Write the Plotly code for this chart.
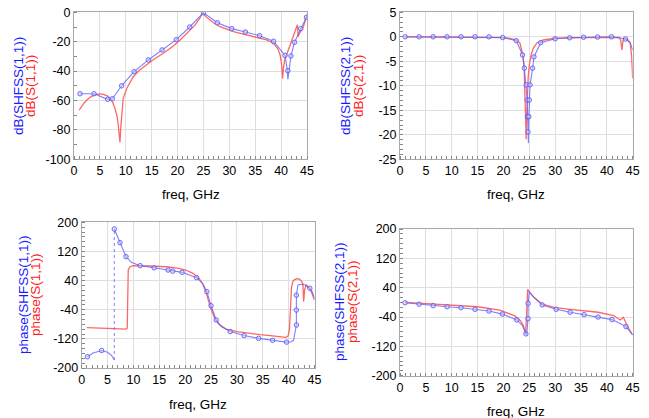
import plotly.graph_objects as go

W, H = 649, 418

# ---------------- data ----------------
# Top-left: dB(S11)
s11db_blue_line_f = [1.16, 3.86, 6.5, 7.4, 9.2, 11.6, 14.35, 17.0, 19.75, 22.35, 25.0, 27.7, 30.45,
                     33.1, 35.85, 38.55, 40.75, 41.2, 41.3, 41.9, 42.6, 43.8, 44.9]
s11db_blue_line_v = [-55.4, -55.4, -59.2, -58.8, -50, -40.4, -32.4, -25.6, -18.6, -10, -0.3, -7.1, -11.1,
                     -13.4, -15.9, -19.7, -29.3, -39.3, -45.6, -29.7, -20.4, -11.1, -3.4]
s11db_blue_mk_f = [1.16, 3.86, 6.5, 7.4, 9.2, 11.6, 14.35, 17.0, 19.75, 22.35, 25.0, 27.7, 30.45,
                   33.1, 35.85, 38.55, 40.75, 41.3, 41.9, 42.6, 43.8, 44.9]
s11db_blue_mk_v = [-55.4, -55.4, -59.2, -58.8, -50, -40.4, -32.4, -25.6, -18.6, -10, -0.3, -7.1, -11.1,
                   -13.4, -15.9, -19.7, -29.3, -39.7, -29.7, -20.4, -11.1, -3.4]
s11db_red_f = [1.0, 1.5, 2.0, 2.5, 3.0, 4.0, 5.0, 5.7, 6.5, 7.0, 7.5, 7.9, 8.3, 8.55, 8.75, 8.88,
               9.0, 9.2, 9.5, 10.2, 11.45, 12.5, 14.0, 15.5, 17.25, 19.0, 20.5, 22.0, 23.4, 24.3,
               24.85, 25.4, 26.3, 27.2, 28.2, 29.5, 30.8, 32.5, 34.0, 35.6, 37.2, 38.2, 38.8, 39.4,
               39.8, 40.05, 40.2, 40.3, 40.45, 40.7, 41.05, 42.0, 43.0, 43.15, 43.3, 43.6, 44.3, 45.0]
s11db_red_v = [-66.5, -63.5, -61.5, -59.7, -58.0, -56.0, -55.5, -55.8, -57.0, -58.5, -61.5, -65.3,
               -70.5, -76.7, -83.0, -88.5, -80.0, -68.0, -58.5, -51.7, -43.8, -39.8, -35.9, -31.8,
               -27.9, -23.5, -18.8, -13.8, -8.6, -4.0, 0.0, -2.8, -5.2, -7.8, -9.8, -11.6, -13.2,
               -14.6, -15.9, -17.3, -18.8, -20.5, -22.2, -25.0, -29.0, -34.0, -39.0, -45.0, -38.0,
               -32.0, -29.0, -20.0, -9.1, -8.5, -16.6, -14.0, -9.8, -1.8]

# Top-right: dB(S21)
s21db_blue_mk_f = [1.0, 3.7, 6.4, 9.1, 11.8, 14.5, 17.2, 19.85, 22.5, 23.7, 24.05, 24.4, 24.6, 24.68,
                   24.75, 24.92, 25.0, 25.15, 25.65, 25.9, 27.2, 30.0, 32.8, 35.5, 38.2, 40.9, 43.6]
s21db_blue_mk_v = [0, 0, 0, 0, 0, 0, 0, -0.15, -0.8, -3.7, -6.4, -9.8, -12.9, -16.3,
                   -19.4, -16.3, -12.9, -9.8, -6.4, -4.1, -1.2, -0.4, -0.2, -0.1, -0.05, 0, -0.45]
s21db_blue_line_f = [1.0, 3.7, 6.4, 9.1, 11.8, 14.5, 17.2, 19.85, 22.5, 23.7, 24.05, 24.4, 24.6, 24.68,
                     24.75, 24.83, 24.92, 25.0, 25.15, 25.65, 25.9, 27.2, 30.0, 32.8, 35.5, 38.2,
                     40.9, 43.6, 44.5, 45.0]
s21db_blue_line_v = [0, 0, 0, 0, 0, 0, 0, -0.15, -0.8, -3.7, -6.4, -9.8, -12.9, -16.3,
                     -19.4, -21.7, -16.3, -12.9, -9.8, -6.4, -4.1, -1.2, -0.4, -0.2, -0.1, -0.05,
                     0, -0.45, -1.2, -2.7]
s21db_red_f = [1, 10, 18, 20, 21.5, 22.6, 23.2, 23.5, 23.8, 24.0, 24.2, 24.3, 24.4, 24.5, 24.6,
               24.8, 25.0, 25.4, 25.8, 26.5, 27.7, 30, 35, 40, 42.4, 42.7, 42.9, 43.1, 43.3, 44.0,
               44.5, 44.8, 45]
s21db_red_v = [-0.02, -0.03, -0.08, -0.15, -0.35, -0.65, -1.3, -2.5, -4.0, -6.1, -12.9, -17.0,
               -20.9, -16.0, -12.5, -8.0, -5.8, -3.5, -2.3, -1.2, -0.65, -0.3, -0.15, -0.05, -0.1,
               -0.8, -2.7, -1.0, -0.3, -0.5, -1.2, -4.0, -8.5]

# Bottom-left: phase(S11)  (None = phase wrap, drawn as a dotted jump)
s11ph_blue_line_f = [1.1, 2.2, 3.85, 5.0, 5.8, 6.3, None, 6.3, 7.4, 8.57, 9.6, 11.3, 14.0, 16.7, 17.6,
                     19.4, 22.2, 23.4, 24.2, 25.0, 26.0, 27.0, 28.7, 31.4, 34.2, 36.9, 39.6, 40.5,
                     40.95, 41.5, 41.5, 41.5, 41.8, 42.4, 43.2, 44.1, 44.6, 45.0]
s11ph_blue_line_v = [-169, -159, -152, -157, -166, -178, None, 181.6, 144, 105.6, 90, 81, 75, 69, 66,
                     62.6, 48, 32, 9.5, -29, -68, -86, -100, -111, -118.6, -124, -129, -128,
                     -124, -82, -41, 0, 28, 30, 28, 19, 8, -10]
s11ph_wrap_f = [6.3, 6.3]
s11ph_wrap_v = [-178, 181.6]
s11ph_blue_mk_f = [1.1, 3.85, 6.3, 7.4, 8.57, 11.3, 14.0, 16.7, 17.6, 19.4, 22.2, 24.2, 25.0, 26.0,
                   28.7, 31.4, 34.2, 36.9, 39.6, 41.5, 41.5, 41.5, 44.1]
s11ph_blue_mk_v = [-169, -152, 181.6, 144, 105.6, 81, 75, 69, 66, 62.6, 48, 9.5, -29, -68,
                   -100, -111, -118.6, -124, -129, -82, -41, 0, 19]
s11ph_red_f = [1.0, 4.0, 7.0, 8.6, 8.8, 8.9, 9.0, 9.35, 10.0, 13.0, 16.3, 18.5, 20.1, 21.5, 22.7,
               23.4, 24.0, 24.8, 25.7, 26.5, 27.9, 30.0, 32.4, 34.5, 36.9, 38.5, 39.5, 39.9, 40.15,
               40.35, 40.55, 40.8, 41.1, 41.6, 42.1, 42.5, 42.75, 42.9, 43.1, 43.4, 44.0, 44.5, 45.0]
s11ph_red_v = [-89, -90, -92, -93, -90, 0, 70, 78, 81, 80, 78, 74, 69, 60, 46, 30, 9.5, -30, -63,
               -80, -93, -100, -105, -108.5, -112, -114.5, -116, -112, -95, -41, 20, 37, 42, 45,
               44, 38, 32, -18, 15, 28, 19, 5, -13]

# Bottom-right: phase(S21)
s21ph_blue_mk_f = [0.97, 3.7, 6.4, 9.1, 11.8, 14.5, 17.2, 19.8, 22.6, 24.35, 24.75, 24.78, 27.5,
                   30.2, 32.9, 35.6, 38.3, 41.0, 43.7]
s21ph_blue_mk_v = [-1, -5, -9, -12, -14.6, -19, -23.6, -32, -48, -86, -44.5, -2.6, -7,
                   -19, -27, -33.6, -40, -47, -66]
s21ph_blue_line_f = [0.97, 3.7, 6.4, 9.1, 11.8, 14.5, 17.2, 19.8, 22.6, 23.6, 24.35, 24.5, 24.75,
                     24.78, 25.0, 25.8, 27.5, 30.2, 32.9, 35.6, 38.3, 41.0, 43.7, 45.0]
s21ph_blue_line_v = [-1, -5, -9, -12, -14.6, -19, -23.6, -32, -48, -62, -86, -90, -44.5,
                     -2.6, 29, 15, -7, -19, -27, -33.6, -40, -47, -66, -89]
s21ph_red_f = [1.0, 5.0, 10.0, 15.0, 19.3, 22.2, 23.3, 23.9, 24.3, 24.55, 24.7, 25.2, 25.8, 27.5,
               30.0, 32.9, 35.6, 38.3, 41.3, 42.6, 43.2, 44.0, 45.0]
s21ph_red_v = [0, -3, -7, -12, -21, -37, -50, -64.5, -86, 20, 35.6, 25, 15, -5, -14.5, -19,
               -22.7, -27, -36, -48, -40.7, -66, -89]

freq_ticks = [0, 5, 10, 15, 20, 25, 30, 35, 40, 45]
s11db_ticks = [0, -20, -40, -60, -80, -100]
s21db_ticks = [5, 0, -5, -10, -15, -20, -25]
phase_ticks = [200, 120, 40, -40, -120, -200]

titles = [
    ("dB(SHFSS(1,1))", "dB(S(1,1))"),
    ("dB(SHFSS(2,1))", "dB(S(2,1))"),
    ("phase(SHFSS(1,1))", "phase(S(1,1))"),
    ("phase(SHFSS(2,1))", "phase(S(2,1))"),
]
xtitle = "freq, GHz"

# ---------------- style / layout ----------------
BLUE_LINE = "rgba(95,95,255,0.8)"
RED_LINE = "rgba(255,85,85,0.9)"
FONT = "Liberation Sans, Arial, sans-serif"

# pixel boxes (left, right, top, bottom)
boxes = [
    (74, 307, 12.3, 159.3),
    (400, 632.7, 12.3, 159.3),
    (81.7, 314.5, 222.3, 368),
    (400, 632.7, 229, 375.7),
]
title_pos = [  # (blue x, red x, y center, xtitle y)
    (19, 31, 86, 195),
    (346, 359, 86, 195),
    (23, 35, 295, 404),
    (339, 352, 302, 411),
]
yranges = [(-100, 0), (-25, 5), (-200, 200), (-200, 200)]
yticks = [s11db_ticks, s21db_ticks, phase_ticks, phase_ticks]
yminor = [10, 1, 80 / 6, 80 / 6]

series = [
    (s11db_red_f, s11db_red_v, s11db_blue_line_f, s11db_blue_line_v, s11db_blue_mk_f, s11db_blue_mk_v),
    (s21db_red_f, s21db_red_v, s21db_blue_line_f, s21db_blue_line_v, s21db_blue_mk_f, s21db_blue_mk_v),
    (s11ph_red_f, s11ph_red_v, s11ph_blue_line_f, s11ph_blue_line_v, s11ph_blue_mk_f, s11ph_blue_mk_v),
    (s21ph_red_f, s21ph_red_v, s21ph_blue_line_f, s21ph_blue_line_v, s21ph_blue_mk_f, s21ph_blue_mk_v),
]

fig = go.Figure()
layout = dict(
    width=W, height=H, margin=dict(l=0, r=0, t=0, b=0, autoexpand=False),
    paper_bgcolor="white", plot_bgcolor="white", showlegend=False,
    font=dict(family=FONT, size=12, color="black"),
    annotations=[],
)

for i, (box, ser) in enumerate(zip(boxes, series)):
    n = "" if i == 0 else str(i + 1)
    xa, ya = "x" + n, "y" + n
    rf, rv, blf, blv, bmf, bmv = ser
    fig.add_trace(go.Scatter(x=rf, y=rv, xaxis=xa, yaxis=ya, mode="lines",
                             line=dict(color=RED_LINE, width=1.3), hoverinfo="skip"))
    fig.add_trace(go.Scatter(x=blf, y=blv, xaxis=xa, yaxis=ya, mode="lines",
                             line=dict(color=BLUE_LINE, width=1.1), hoverinfo="skip",
                             connectgaps=False))
    if i == 2:
        fig.add_trace(go.Scatter(x=s11ph_wrap_f, y=s11ph_wrap_v, xaxis=xa, yaxis=ya, mode="lines",
                                 line=dict(color=BLUE_LINE, width=1, dash="dot"), hoverinfo="skip"))
    fig.add_trace(go.Scatter(x=bmf, y=bmv, xaxis=xa, yaxis=ya, mode="markers",
                             marker=dict(symbol="circle", size=4.5, color="rgba(200,200,255,0.5)",
                                         line=dict(color="rgba(90,90,240,0.85)", width=1)),
                             hoverinfo="skip"))
    l, r, t, b = box
    axis_common = dict(showline=True, mirror=True, linecolor="#a8a8a8", linewidth=1,
                       showgrid=True, gridcolor="#dedede", gridwidth=1, zeroline=False,
                       ticks="", automargin=False,
                       tickfont=dict(family=FONT, size=12.5, color="black"))
    layout["xaxis" + n] = dict(domain=[l / W, r / W], range=[0, 45], anchor=ya,
                               tickmode="array", tickvals=freq_ticks,
                               ticktext=[str(v) for v in freq_ticks],
                               minor=dict(ticks="inside", dtick=1, tick0=0, ticklen=3,
                                          tickcolor="#888", showgrid=False),
                               **axis_common)
    yr = yranges[i]
    layout["yaxis" + n] = dict(domain=[1 - b / H, 1 - t / H], range=list(yr), anchor=xa,
                               tickmode="array", tickvals=yticks[i],
                               ticktext=[str(v) for v in yticks[i]],
                               minor=dict(ticks="inside", dtick=yminor[i], tick0=yr[0], ticklen=3,
                                          tickcolor="#888", showgrid=False),
                               **axis_common)
    bx, rx, cy, xty = title_pos[i]
    tb, tr = titles[i]
    layout["annotations"].append(dict(text=tb, x=bx / W, y=1 - cy / H, xref="paper", yref="paper",
                                      xanchor="center", yanchor="middle", textangle=-90,
                                      showarrow=False, font=dict(family=FONT, size=13.5, color="#1a1aff")))
    layout["annotations"].append(dict(text=tr, x=rx / W, y=1 - cy / H, xref="paper", yref="paper",
                                      xanchor="center", yanchor="middle", textangle=-90,
                                      showarrow=False, font=dict(family=FONT, size=13.5, color="#ff2020")))
    layout["annotations"].append(dict(text=xtitle, x=(l + r) / 2 / W, y=1 - xty / H, xref="paper",
                                      yref="paper", xanchor="center", yanchor="middle",
                                      showarrow=False, font=dict(family=FONT, size=13.5, color="black")))

fig.update_layout(**layout)
fig.write_html(
    "out.html",
    config={"displayModeBar": False, "staticPlot": True},
    post_script="document.body.style.margin='0';document.body.style.padding='0';"
                "document.body.style.overflow='hidden';",
)
